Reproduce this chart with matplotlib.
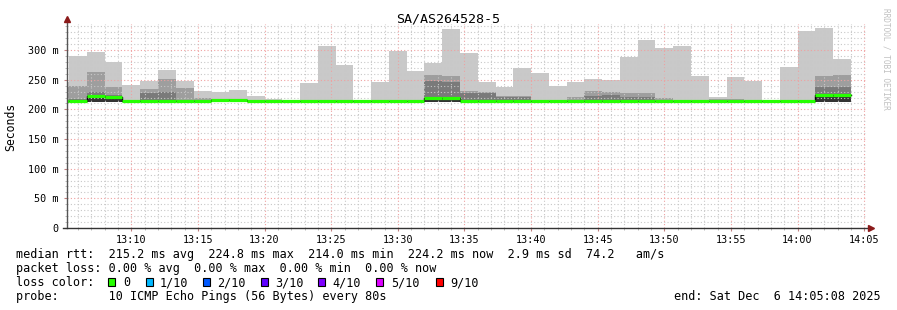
import matplotlib
matplotlib.use("Agg")
import matplotlib.pyplot as plt
import matplotlib.dates as mdates
from matplotlib.patches import Rectangle
import numpy as np
import pandas as pd

# ---------------- data ----------------
title = "SA/AS264528-5"
bin_start = pd.date_range("2025-12-06 13:04:00", periods=45, freq="80s")
step = pd.Timedelta(seconds=80)

median_ms = [214, 214, 222, 221, 214, 214, 214, 214, 214, 216.5, 216.5, 214, 214, 214, 214,
             214, 214, 214, 214, 214, 214, 220, 219, 214, 214, 214, 214, 214, 214, 214,
             214, 214, 214, 214, 214, 214, 214, 214, 214, 214, 214, 214, 214, 224.8, 224.2]
low_ms = [213, 213, 213, 213, 214, 214, 214, 214, 214, 214, 214, 214, 214, 214, 214,
          214, 214, 214, 214, 214, 214, 213, 213, 214, 214, 214, 214, 214, 214, 214,
          214, 214, 214, 214, 214, 214, 214, 214, 214, 214, 214, 214, 214, 213, 213]
dark_top_ms = [216, 217, 230, 224, 214, 227, 229, 216, 215, 217, 217, 214, 214, 214, 214,
               214, 214, 214, 214, 214, 214, 248, 246, 227, 227, 221, 221, 214, 214, 214,
               223, 224, 221, 221, 214, 214, 214, 214, 214, 214, 214, 214, 214, 237, 238]
mid_top_ms = [238, 239, 263, 238, 215, 235, 252, 236, 220, 218, 218, 215, 214, 214, 214,
              214, 214, 214, 214, 214, 214, 258, 256, 231, 229, 223, 223, 215, 214, 221,
              231, 230, 227, 227, 219, 214, 214, 218, 217, 214, 214, 214, 214, 257, 258]
max_ms = [247, 290, 297, 280, 241, 248, 267, 248, 231, 229, 233, 223, 218, 215, 244,
          307, 275, 215, 247, 298, 265, 279, 335, 295, 246, 237, 270, 261, 239, 246,
          251, 249, 289, 317, 303, 307, 256, 221, 254, 248, 215, 271, 333, 337, 285]

ytick_vals = [0, 50, 100, 150, 200, 250, 300]
ytick_labels = ["0", "50 m", "100 m", "150 m", "200 m", "250 m", "300 m"]

stats_line = "median rtt:  215.2 ms avg  224.8 ms max  214.0 ms min  224.2 ms now  2.9 ms sd  74.2   am/s"
loss_line = "packet loss: 0.00 % avg  0.00 % max  0.00 % min  0.00 % now"
probe_line = "probe:       10 ICMP Echo Pings (56 Bytes) every 80s"
end_line = "end: Sat Dec  6 14:05:08 2025"
loss_labels = ["0", "1/10", "2/10", "3/10", "4/10", "5/10", "9/10"]
loss_colors = ["#26ff00", "#00b8ff", "#0059ff", "#5e00ff", "#7e00ff", "#dd00ff", "#ff0000"]

# ---------------- figure ----------------
W, H = 897, 310
fig = plt.figure(figsize=(W / 100, H / 100), dpi=100)
fig.patch.set_facecolor("white")
MONO = "DejaVu Sans Mono"

ax_l, ax_r, ax_b, ax_t = 66.5, 866, 228, 24
ax = fig.add_axes([ax_l / W, 1 - ax_b / H, (ax_r - ax_l) / W, (ax_b - ax_t) / H])
ax.set_facecolor("white")

x0 = mdates.date2num(bin_start.to_pydatetime())
wdays = step / pd.Timedelta(days=1)
med = np.array(median_ms) / 1000
lo = np.array(low_ms) / 1000
d1 = np.array(dark_top_ms) / 1000
d2 = np.array(mid_top_ms) / 1000
hi = np.array(max_ms) / 1000

bands = [(lo, med, "#333333"), (med, d1, "#7a7a7a"), (d1, d2, "#9e9e9e"), (d2, hi, "#c9c9c9")]
for bottom, top, col in bands:
    ax.bar(x0, top - bottom, bottom=bottom, width=wdays, align="edge",
           color=col, linewidth=0, zorder=1)

# black step line underneath the median (vertical transitions)
ax.step(np.append(x0, x0[-1] + wdays), np.append(med, med[-1]), where="post",
        color="black", lw=1.0, zorder=3)
ax.hlines(med, x0, x0 + wdays, colors="#26ff00", lw=2.3, zorder=4)

# limits
ax.set_xlim(mdates.date2num(pd.Timestamp("2025-12-06 13:05:08")),
            mdates.date2num(pd.Timestamp("2025-12-06 14:05:08")))
ax.set_ylim(0, 0.344)

# ticks & grid
ax.xaxis.set_major_locator(mdates.MinuteLocator(byminute=range(0, 60, 5)))
ax.xaxis.set_minor_locator(mdates.MinuteLocator())
ax.xaxis.set_major_formatter(mdates.DateFormatter("%H:%M"))
ax.set_yticks([v / 1000 for v in ytick_vals])
ax.set_yticklabels(ytick_labels)
ax.set_yticks(np.arange(0, 0.345, 0.010), minor=True)

ax.grid(which="minor", color="#c8c8c8", lw=0.8, ls=(0, (1, 2)), zorder=2)
ax.grid(which="major", color="#f0a0a0", lw=0.8, ls=(0, (1, 2)), zorder=2)
ax.set_axisbelow(False)

for lab in ax.get_xticklabels() + ax.get_yticklabels():
    lab.set_fontfamily(MONO)
    lab.set_fontsize(7.3)
    lab.set_color("black")
ax.tick_params(axis="both", which="major", length=2, width=0.8, color="#c08080")
ax.tick_params(axis="both", which="minor", length=1.5, width=0.6, color="#b0b0b0")
ax.tick_params(axis="y", which="both", pad=4)
ax.tick_params(axis="x", which="both", pad=3)

for s in ax.spines.values():
    s.set_visible(False)

# axis lines with arrows
ax.plot([0, 0], [0, 1 + 3 / (ax_b - ax_t)], transform=ax.transAxes, color="#555555",
        lw=1, clip_on=False, zorder=5)
ax.plot([-4 / (ax_r - ax_l), 1 + 4 / (ax_r - ax_l)], [0, 0], transform=ax.transAxes,
        color="#333333", lw=1, clip_on=False, zorder=5)
ax.plot([0], [1 + 5 / (ax_b - ax_t)], marker="^", ms=4, color="#8b1a1a",
        transform=ax.transAxes, clip_on=False, zorder=6)
ax.plot([1 + 5 / (ax_r - ax_l)], [0], marker=">", ms=4, color="#8b1a1a",
        transform=ax.transAxes, clip_on=False, zorder=6)

# titles
fig.text(448 / W, 1 - 19 / H, title, family=MONO, fontsize=9.6, ha="center", va="center")
fig.text(11 / W, 1 - 127 / H, "Seconds", family=MONO, fontsize=8.3, rotation=90,
         ha="center", va="center")
fig.text(886 / W, 1 - 59 / H, "RRDTOOL / TOBI OETIKER", family=MONO, fontsize=5.6,
         rotation=270, ha="center", va="center", color="#c0c0c0")

# legend text
FS = 8.45
def ftxt(x, y, s, **kw):
    fig.text(x / W, 1 - y / H, s, family=MONO, fontsize=FS, va="center", **kw)

ftxt(16, 254.5, stats_line)
ftxt(16, 268.5, loss_line)
ftxt(16, 282.5, "loss color:")
ftxt(16, 296.5, probe_line)
ftxt(881, 296.5, end_line, ha="right")

sq_x = [108.3, 145.7, 203, 260.7, 318.3, 376, 435.7]
txt_x = [123.3, 160, 217.3, 275, 332.7, 390.7, 450]
for sx, tx, lab, col in zip(sq_x, txt_x, loss_labels, loss_colors):
    fig.patches.append(Rectangle((sx / W, 1 - 286 / H), 7 / W, 8 / H,
                                 transform=fig.transFigure, facecolor=col,
                                 edgecolor="black", lw=0.8))
    ftxt(tx, 282.5, lab)

fig.savefig("out.png", dpi=100, facecolor="white")
